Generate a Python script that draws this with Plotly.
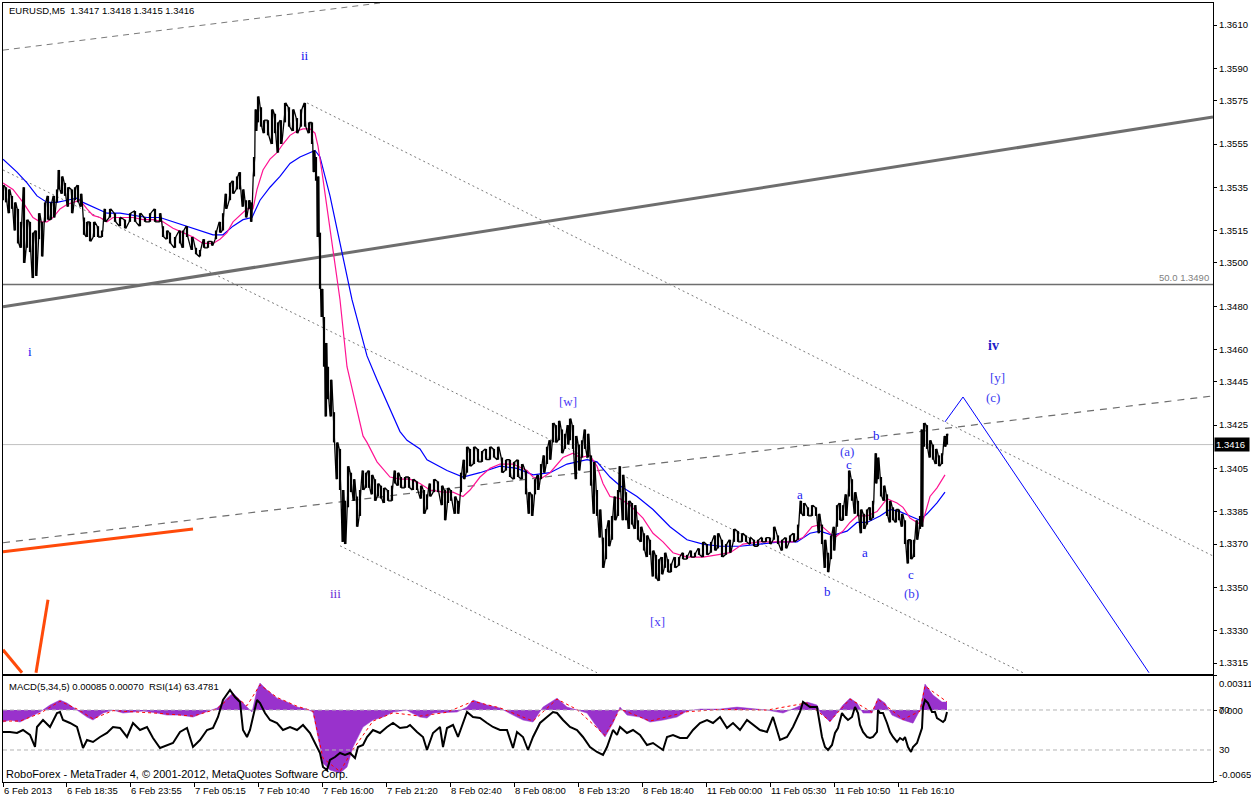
import plotly.graph_objects as go

# ---------------- price data (bar position on time axis, high, low) ----------------
bar_pos = [
    3, 6, 9, 12, 15, 18, 21, 24, 27, 30,
    33, 36, 39, 42, 45, 48, 51, 54, 57, 59,
    62, 65, 68, 72, 75, 78, 81, 84, 87, 90,
    94, 98, 102, 105, 110, 115, 120, 125, 130, 135,
    140, 145, 150, 155, 160, 163, 167, 170, 175, 180,
    183, 187, 192, 196, 200, 204, 208, 212, 216, 220,
    223, 226, 230, 233, 237, 240, 243, 246, 249, 251,
    254, 256, 258, 261, 264, 268, 272, 275, 278, 281,
    285, 289, 293, 297, 301, 305, 309, 312, 314, 316,
    318, 320, 322, 324, 326, 328, 331, 334, 337, 340,
    343, 345, 348, 351, 354, 357, 360, 363, 366, 369,
    372, 375, 378, 381, 384, 388, 392, 395, 398, 401,
    405, 409, 413, 417, 421, 424, 427, 430, 434, 438,
    442, 445, 448, 451, 455, 458, 461, 464, 467, 470,
    474, 478, 482, 486, 490, 494, 498, 502, 506, 510,
    514, 518, 522, 526, 529, 532, 535, 538, 541, 544,
    547, 550, 553, 556, 559, 562, 565, 568, 570, 573,
    576, 579, 582, 585, 588, 591, 594, 597, 600, 603,
    606, 609, 612, 615, 618, 620, 623, 626, 629, 632,
    635, 638, 641, 644, 647, 650, 653, 656, 659, 662,
    665, 668, 671, 675, 679, 683, 687, 691, 695, 699,
    703, 707, 711, 715, 718, 722, 726, 730, 734, 738,
    742, 746, 750, 754, 758, 762, 766, 770, 774, 778,
    782, 786, 790, 794, 798, 801, 804, 808, 812, 816,
    819, 822, 825, 828, 831, 834, 837, 840, 843, 846,
    849, 852, 855, 858, 861, 864, 867, 870, 873, 876,
    878, 881, 884, 887, 890, 893, 896, 899, 902, 905,
    908, 911, 914, 917, 920, 922, 924, 927, 930, 933,
    936, 939, 942, 945, 947,
]
bar_high = [
    1.3536, 1.3535, 1.3534, 1.3531, 1.3528, 1.3525, 1.3519, 1.3535, 1.3520, 1.3519,
    1.3514, 1.3515, 1.3523, 1.3519, 1.3528, 1.3531, 1.3528, 1.3531, 1.3534, 1.3543,
    1.3540, 1.3537, 1.3535, 1.3534, 1.3535, 1.3536, 1.3532, 1.3521, 1.3519, 1.3519,
    1.3519, 1.3517, 1.3515, 1.3525, 1.3525, 1.3523, 1.3521, 1.3520, 1.3523, 1.3524,
    1.3523, 1.3521, 1.3523, 1.3525, 1.3523, 1.3517, 1.3515, 1.3514, 1.3512, 1.3515,
    1.3515, 1.3517, 1.3512, 1.3507, 1.3506, 1.3511, 1.3510, 1.3510, 1.3515, 1.3519,
    1.3523, 1.3532, 1.3537, 1.3538, 1.3540, 1.3542, 1.3534, 1.3529, 1.3529, 1.3528,
    1.3549, 1.3571, 1.3577, 1.3572, 1.3566, 1.3566, 1.3571, 1.3569, 1.3565, 1.3566,
    1.3574, 1.3572, 1.3571, 1.3567, 1.3571, 1.3574, 1.3565, 1.3565, 1.3552, 1.3549,
    1.3540, 1.3514, 1.3488, 1.3475, 1.3463, 1.3452, 1.3446, 1.3431, 1.3417, 1.3414,
    1.3395, 1.3390, 1.3406, 1.3403, 1.3400, 1.3392, 1.3395, 1.3404, 1.3403, 1.3404,
    1.3402, 1.3400, 1.3398, 1.3397, 1.3396, 1.3395, 1.3397, 1.3404, 1.3403, 1.3401,
    1.3401, 1.3401, 1.3400, 1.3399, 1.3397, 1.3395, 1.3393, 1.3398, 1.3400, 1.3399,
    1.3397, 1.3395, 1.3396, 1.3395, 1.3392, 1.3390, 1.3403, 1.3409, 1.3415, 1.3414,
    1.3415, 1.3414, 1.3413, 1.3414, 1.3415, 1.3414, 1.3415, 1.3410, 1.3409, 1.3409,
    1.3408, 1.3409, 1.3407, 1.3404, 1.3394, 1.3393, 1.3400, 1.3402, 1.3407, 1.3411,
    1.3415, 1.3418, 1.3426, 1.3425, 1.3427, 1.3423, 1.3421, 1.3425, 1.3428, 1.3425,
    1.3420, 1.3416, 1.3418, 1.3423, 1.3421, 1.3411, 1.3408, 1.3395, 1.3386, 1.3373,
    1.3377, 1.3381, 1.3383, 1.3392, 1.3395, 1.3406, 1.3402, 1.3394, 1.3390, 1.3389,
    1.3388, 1.3381, 1.3378, 1.3375, 1.3374, 1.3372, 1.3367, 1.3365, 1.3363, 1.3364,
    1.3366, 1.3363, 1.3361, 1.3364, 1.3364, 1.3366, 1.3365, 1.3367, 1.3366, 1.3368,
    1.3371, 1.3370, 1.3371, 1.3374, 1.3375, 1.3372, 1.3370, 1.3372, 1.3377, 1.3376,
    1.3375, 1.3374, 1.3373, 1.3372, 1.3372, 1.3373, 1.3373, 1.3373, 1.3378, 1.3374,
    1.3372, 1.3373, 1.3374, 1.3375, 1.3379, 1.3390, 1.3389, 1.3387, 1.3388, 1.3387,
    1.3384, 1.3379, 1.3372, 1.3366, 1.3374, 1.3378, 1.3388, 1.3389, 1.3388, 1.3393,
    1.3404, 1.3400, 1.3394, 1.3390, 1.3386, 1.3384, 1.3386, 1.3387, 1.3390, 1.3412,
    1.3410, 1.3401, 1.3397, 1.3393, 1.3390, 1.3387, 1.3386, 1.3386, 1.3384, 1.3381,
    1.3372, 1.3372, 1.3372, 1.3381, 1.3383, 1.3423, 1.3426, 1.3425, 1.3418, 1.3416,
    1.3414, 1.3411, 1.3412, 1.3420, 1.3421,
]
bar_low = [
    1.3529, 1.3528, 1.3523, 1.3525, 1.3515, 1.3509, 1.3507, 1.3500, 1.3507, 1.3505,
    1.3493, 1.3494, 1.3511, 1.3503, 1.3519, 1.3520, 1.3520, 1.3521, 1.3528, 1.3534,
    1.3532, 1.3531, 1.3526, 1.3523, 1.3529, 1.3528, 1.3526, 1.3513, 1.3512, 1.3510,
    1.3512, 1.3512, 1.3512, 1.3519, 1.3521, 1.3519, 1.3517, 1.3516, 1.3519, 1.3519,
    1.3517, 1.3519, 1.3519, 1.3519, 1.3519, 1.3512, 1.3511, 1.3509, 1.3507, 1.3509,
    1.3507, 1.3512, 1.3506, 1.3504, 1.3503, 1.3507, 1.3507, 1.3508, 1.3511, 1.3514,
    1.3515, 1.3525, 1.3529, 1.3532, 1.3534, 1.3534, 1.3526, 1.3521, 1.3525, 1.3519,
    1.3540, 1.3561, 1.3565, 1.3563, 1.3560, 1.3559, 1.3555, 1.3560, 1.3551, 1.3555,
    1.3565, 1.3563, 1.3561, 1.3560, 1.3563, 1.3563, 1.3560, 1.3555, 1.3542, 1.3538,
    1.3512, 1.3488, 1.3475, 1.3452, 1.3429, 1.3437, 1.3429, 1.3417, 1.3400, 1.3395,
    1.3371, 1.3370, 1.3387, 1.3394, 1.3390, 1.3378, 1.3383, 1.3395, 1.3396, 1.3396,
    1.3393, 1.3390, 1.3392, 1.3391, 1.3389, 1.3390, 1.3390, 1.3398, 1.3397, 1.3396,
    1.3396, 1.3396, 1.3395, 1.3395, 1.3391, 1.3384, 1.3386, 1.3392, 1.3394, 1.3394,
    1.3388, 1.3381, 1.3389, 1.3390, 1.3384, 1.3384, 1.3394, 1.3400, 1.3403, 1.3406,
    1.3407, 1.3408, 1.3408, 1.3409, 1.3409, 1.3410, 1.3409, 1.3403, 1.3404, 1.3401,
    1.3400, 1.3401, 1.3400, 1.3393, 1.3384, 1.3383, 1.3393, 1.3395, 1.3400, 1.3403,
    1.3407, 1.3409, 1.3417, 1.3417, 1.3418, 1.3412, 1.3414, 1.3416, 1.3418, 1.3414,
    1.3400, 1.3404, 1.3410, 1.3414, 1.3410, 1.3397, 1.3384, 1.3383, 1.3373, 1.3359,
    1.3363, 1.3369, 1.3372, 1.3381, 1.3383, 1.3394, 1.3381, 1.3381, 1.3377, 1.3379,
    1.3377, 1.3372, 1.3371, 1.3367, 1.3364, 1.3365, 1.3355, 1.3354, 1.3353, 1.3356,
    1.3359, 1.3357, 1.3357, 1.3359, 1.3360, 1.3363, 1.3363, 1.3364, 1.3364, 1.3365,
    1.3364, 1.3365, 1.3366, 1.3367, 1.3368, 1.3364, 1.3365, 1.3366, 1.3371, 1.3371,
    1.3371, 1.3371, 1.3370, 1.3369, 1.3369, 1.3371, 1.3371, 1.3370, 1.3372, 1.3370,
    1.3367, 1.3368, 1.3371, 1.3371, 1.3372, 1.3384, 1.3383, 1.3383, 1.3383, 1.3383,
    1.3375, 1.3370, 1.3359, 1.3357, 1.3363, 1.3367, 1.3378, 1.3381, 1.3381, 1.3383,
    1.3392, 1.3390, 1.3384, 1.3383, 1.3375, 1.3377, 1.3379, 1.3381, 1.3382, 1.3398,
    1.3400, 1.3392, 1.3390, 1.3383, 1.3380, 1.3381, 1.3380, 1.3381, 1.3378, 1.3370,
    1.3361, 1.3363, 1.3364, 1.3372, 1.3377, 1.3378, 1.3415, 1.3414, 1.3410, 1.3409,
    1.3407, 1.3406, 1.3407, 1.3415, 1.3416,
]

# ---------------- moving averages ----------------
ma_fast_pos = [3, 13, 23, 33, 40, 47, 53, 60, 67, 73, 80, 87, 93, 100, 107, 113, 123, 133, 143, 153,
               163, 173, 183, 193, 203, 213, 220, 227, 233, 240, 247, 253, 257, 263, 270, 277, 283, 290,
               297, 303, 310, 315, 318, 322, 327, 330, 340, 347, 353, 363, 367, 377, 390, 400, 410, 420,
               430, 443, 453, 463, 470, 480, 490, 500, 513, 527, 533, 540, 550, 563, 573, 580, 590, 597,
               603, 610, 620, 630, 643, 653, 663, 673, 687, 703, 717, 730, 743, 760, 777, 793, 803, 812,
               820, 827, 835, 843, 850, 857, 867, 877, 887, 897, 903, 910, 917, 922, 925, 930, 937, 945]
ma_fast = [1.3537, 1.3534, 1.3528, 1.3521, 1.3519, 1.3519, 1.3521, 1.3525, 1.3527, 1.3528, 1.3529,
           1.3525, 1.3522, 1.3521, 1.3519, 1.3521, 1.3521, 1.3521, 1.3520, 1.3520, 1.3519, 1.3516,
           1.3514, 1.3512, 1.3509, 1.3509, 1.3511, 1.3514, 1.3519, 1.3522, 1.3525, 1.3525, 1.3534,
           1.3543, 1.3548, 1.3551, 1.3555, 1.3559, 1.3561, 1.3562, 1.3562, 1.3560, 1.3554, 1.3542,
           1.3526, 1.3517, 1.3483, 1.3452, 1.3440, 1.3420, 1.3417, 1.3408, 1.3401, 1.3400, 1.3400,
           1.3398, 1.3395, 1.3394, 1.3394, 1.3392, 1.3395, 1.3401, 1.3405, 1.3407, 1.3407, 1.3404,
           1.3401, 1.3400, 1.3403, 1.3410, 1.3412, 1.3410, 1.3411, 1.3406, 1.3398, 1.3392, 1.3391,
           1.3388, 1.3382, 1.3375, 1.3371, 1.3366, 1.3364, 1.3364, 1.3365, 1.3366, 1.3370, 1.3371,
           1.3371, 1.3371, 1.3373, 1.3378, 1.3379, 1.3376, 1.3373, 1.3376, 1.3380, 1.3383, 1.3383,
           1.3385, 1.3391, 1.3389, 1.3387, 1.3382, 1.3380, 1.3379, 1.3384, 1.3392, 1.3396, 1.3402]
ma_slow_pos = [3, 17, 27, 37, 47, 57, 67, 77, 83, 93, 107, 120, 133, 147, 160, 173, 187, 200, 213, 223,
               233, 243, 252, 260, 270, 280, 290, 300, 310, 315, 320, 325, 330, 352, 367, 377, 390, 400,
               407, 420, 427, 447, 463, 480, 500, 517, 533, 550, 567, 587, 597, 610, 620, 637, 653, 670,
               687, 703, 720, 740, 760, 780, 797, 810, 820, 833, 847, 857, 867, 880, 890, 900, 910, 920,
               927, 937, 945]
ma_slow = [1.3548, 1.3542, 1.3537, 1.3531, 1.3528, 1.3528, 1.3529, 1.3530, 1.3528, 1.3526, 1.3523,
           1.3523, 1.3522, 1.3521, 1.3521, 1.3519, 1.3517, 1.3515, 1.3513, 1.3513, 1.3517, 1.3520,
           1.3521, 1.3529, 1.3535, 1.3540, 1.3546, 1.3549, 1.3551, 1.3552, 1.3549, 1.3540, 1.3531,
           1.3483, 1.3457, 1.3446, 1.3432, 1.3422, 1.3418, 1.3414, 1.3409, 1.3404, 1.3401, 1.3403,
           1.3406, 1.3405, 1.3402, 1.3403, 1.3407, 1.3409, 1.3408, 1.3401, 1.3397, 1.3392, 1.3386,
           1.3378, 1.3372, 1.3370, 1.3369, 1.3369, 1.3370, 1.3371, 1.3371, 1.3375, 1.3376, 1.3374,
           1.3376, 1.3380, 1.3380, 1.3383, 1.3386, 1.3385, 1.3383, 1.3381, 1.3384, 1.3389, 1.3394]

# ---------------- indicator window ----------------
macd_pos = [3, 10, 20, 30, 40, 50, 60, 67, 77, 87, 93, 103, 113, 123, 133, 143, 157, 167, 180, 193,
            203, 217, 227, 233, 240, 247, 252, 257, 260, 267, 277, 287, 297, 307, 313, 318, 323, 330,
            340, 347, 353, 363, 373, 383, 393, 407, 410, 420, 427, 433, 447, 457, 467, 473, 487, 500,
            513, 523, 533, 543, 557, 567, 577, 587, 597, 605, 613, 620, 627, 640, 650, 663, 677, 687,
            700, 720, 737, 750, 767, 783, 797, 807, 817, 820, 830, 837, 843, 850, 857, 863, 872, 878,
            885, 892, 903, 913, 920, 925, 933, 942, 947]
macd_hist = [-0.00109, -0.00091, -0.00109, -0.00064, -0.00018, 0.00046, 0.00091, 0.00064, 0.0, -0.00064,
             -0.00091, -0.00027, 0.0, -0.00027, -0.00018, -0.00009, -0.00027, -0.00046, -0.00046, -0.00064,
             -0.00027, 0.00018, 0.00109, 0.00155, 0.00091, 0.00027, -0.00018, 0.00182, 0.00246, 0.00182,
             0.00109, 0.00073, 0.00027, 0.00009, -0.00018, -0.00246, -0.00483, -0.00547, -0.00575, -0.00520,
             -0.00337, -0.00155, -0.00091, -0.00064, -0.00018, 0.0, -0.00018, -0.00064, -0.00073, -0.00027,
             -0.00018, -0.00018, 0.00027, 0.00091, 0.00046, 0.00018, -0.00046, -0.00091, -0.00109, 0.00027,
             0.00109, 0.00027, 0.0, -0.00027, -0.00155, -0.00246, -0.00119, 0.00027, -0.00046, -0.00064,
             -0.00109, -0.00091, -0.00064, -0.00009, 0.00009, 0.00009, 0.00027, 0.00018, 0.0, -0.00027,
             0.00027, 0.00073, 0.00046, -0.00018, -0.00109, -0.00027, 0.00046, 0.00109, 0.00064, -0.00027,
             -0.00027, 0.00109, 0.00064, -0.00046, -0.00091, -0.00119, 0.0, 0.00237, 0.00137, 0.00073, 0.00073]
signal_pos = [3, 20, 40, 60, 77, 93, 113, 133, 160, 193, 217, 233, 247, 260, 277, 297, 313, 323, 340,
              353, 373, 393, 420, 447, 473, 500, 533, 557, 577, 605, 620, 650, 687, 720, 767, 807, 830,
              850, 872, 878, 903, 920, 925, 947]
signal_line = [-0.00100, -0.00100, -0.00030, 0.00080, 0.00010, -0.00080, -0.00005, -0.00015, -0.00030,
               -0.00055, 0.00010, 0.00140, 0.00040, 0.00230, 0.00115, 0.00035, -0.00010, -0.00440, -0.00560,
               -0.00360, -0.00100, -0.00025, -0.00055, -0.00020, 0.00080, 0.00020, -0.00100, 0.00100, 0.00005,
               -0.00230, 0.00010, -0.00100, -0.00015, 0.00005, 0.00000, 0.00065, -0.00100, 0.00100, -0.00020,
               0.00100, -0.00085, -0.00010, 0.00220, 0.00075]
rsi_pos = [3, 10, 17, 23, 30, 35, 37, 43, 50, 57, 60, 63, 70, 77, 83, 87, 93, 100, 107, 113, 120, 127,
           133, 140, 147, 153, 160, 167, 173, 180, 187, 193, 200, 207, 213, 218, 223, 230, 235, 240, 243,
           247, 250, 253, 257, 260, 265, 270, 277, 283, 290, 297, 303, 310, 315, 320, 323, 327, 330, 335,
           340, 345, 350, 355, 358, 363, 367, 373, 380, 387, 393, 400, 407, 410, 417, 423, 427, 433, 440,
           443, 447, 453, 458, 463, 467, 473, 480, 487, 493, 500, 507, 513, 517, 523, 528, 533, 540, 547,
           553, 557, 563, 570, 577, 583, 590, 597, 603, 607, 613, 617, 620, 627, 633, 640, 647, 653, 660,
           663, 667, 673, 680, 687, 693, 700, 707, 713, 720, 727, 733, 740, 747, 753, 760, 767, 773, 780,
           787, 793, 800, 803, 810, 817, 820, 822, 825, 828, 832, 835, 838, 842, 845, 848, 852, 855, 858,
           860, 863, 867, 870, 873, 877, 878, 880, 883, 887, 890, 893, 897, 900, 903, 905, 908, 911, 913,
           917, 920, 922, 923, 925, 928, 932, 935, 937, 940, 943, 945, 947]
rsi = [48, 48, 47, 50, 45, 33, 53, 60, 53, 67, 68, 60, 57, 53, 32, 40, 38, 43, 47, 53, 52, 43,
       57, 50, 53, 42, 32, 35, 37, 48, 52, 33, 40, 50, 52, 63, 80, 90, 83, 78, 50,
       43, 50, 63, 80, 77, 67, 60, 57, 50, 53, 50, 55, 47, 37, 27, 13, 10, 20, 23,
       27, 25, 27, 22, 33, 35, 43, 50, 47, 53, 57, 52, 53, 55, 48, 43, 30, 47, 53,
       33, 52, 55, 43, 57, 68, 63, 62, 57, 53, 50, 50, 32, 48, 43, 30, 43, 57, 63,
       68, 67, 60, 53, 50, 43, 33, 28, 25, 33, 50, 45, 53, 47, 50, 45, 35, 37, 32,
       30, 43, 45, 42, 42, 50, 57, 60, 57, 63, 52, 57, 50, 60, 55, 50, 48, 63, 40,
       43, 53, 68, 78, 73, 73, 55, 43, 33, 30, 35, 47, 52, 67, 63, 60, 63, 73, 67,
       55, 48, 43, 42, 43, 48, 70, 67, 67, 57, 48, 43, 38, 42, 40, 43, 33, 28, 33,
       37, 45, 52, 73, 80, 77, 68, 68, 62, 60, 58, 60, 68]
rsi_levels = [70, 30]

# ---------------- axis ticks ----------------
price_ticks = [1.3610, 1.3590, 1.3575, 1.3555, 1.3535, 1.3515, 1.3500, 1.3480, 1.3460, 1.3445,
               1.3425, 1.3405, 1.3385, 1.3370, 1.3350, 1.3330, 1.3315]
time_tick_pos = [3, 66, 130, 194, 258, 322, 386, 450, 514, 578, 642, 706, 770, 834, 898]
time_tick_text = ["6 Feb 2013", "6 Feb 18:35", "6 Feb 23:55", "7 Feb 05:15", "7 Feb 10:40",
                  "7 Feb 16:00", "7 Feb 21:20", "8 Feb 02:40", "8 Feb 08:00", "8 Feb 13:20",
                  "8 Feb 18:40", "11 Feb 00:00", "11 Feb 05:30", "11 Feb 10:50", "11 Feb 16:10"]
x_range = [3, 1213]
price_range = [1.33099, 1.36202]
macd_range = [-0.00656, 0.00311]
rsi_range = [-2, 104]

# ---------------- drawn objects (bar position, price) ----------------
top_dash_line = ([3, 380], [1.35984, 1.36202])
chan_upper = ([307, 1213], [1.35740, 1.33645])
chan_mid = ([3, 1023], [1.35430, 1.33105])
chan_low = ([340, 597], [1.33692, 1.33105])
rising_dash = ([3, 1213], [1.33706, 1.34385])
thick_line = ([3, 1213], [1.34797, 1.35675])
fib_level = 1.3490
last_price = 1.3416
orange_1 = ([3, 193], [1.33664, 1.33770])
orange_2 = ([36, 48], [1.33105, 1.33442])
orange_3 = ([3, 22], [1.33211, 1.33105])
projection = ([945, 963, 1149], [1.34265, 1.34380, 1.33105])

wave_labels = [
    ("ii", 305, 1.3596, "#1515F0"), ("i", 30, 1.3459, "#1515F0"), ("iii", 335, 1.3347, "#6A2BD6"),
    ("[w]", 568, 1.3436, "#4A3AF5"), ("[x]", 657, 1.3334, "#4A3AF5"),
    ("a", 800, 1.3393, "#1A1AF0"), ("b", 827, 1.3348, "#1A1AF0"), ("(a)", 847, 1.3413, "#3A3AF0"),
    ("c", 849, 1.3407, "#1A1AF0"), ("b", 876, 1.3420, "#1A1AF0"), ("a", 865, 1.3366, "#1A1AF0"),
    ("c", 911, 1.3356, "#1A1AF0"), ("(b)", 911, 1.3347, "#3A3AF0"),
    ("[y]", 997, 1.3447, "#3A3AF0"), ("(c)", 993, 1.3438, "#3A3AF0"),
]

# ---------------- build figure ----------------
fig = go.Figure()
SANS = "Liberation Sans"


def line(xs, ys, color, width, dash="solid", xa="x", ya="y"):
    fig.add_trace(go.Scatter(x=xs, y=ys, mode="lines", xaxis=xa, yaxis=ya,
                             line=dict(color=color, width=width, dash=dash),
                             hoverinfo="skip", showlegend=False))


# background objects
line(*top_dash_line, "#7a7a7a", 1, "6px,5px")
line(*chan_upper, "#7a7a7a", 1, "2px,3px")
line(*chan_mid, "#7a7a7a", 1, "2px,3px")
line(*chan_low, "#7a7a7a", 1, "2px,3px")
line(*rising_dash, "#6e6e6e", 1.2, "7px,6px")
line(*thick_line, "#6e6e6e", 3)
line(x_range, [fib_level, fib_level], "#6e6e6e", 1.5)
line(x_range, [last_price, last_price], "#c0c0c0", 1)
line(*orange_1, "#FF4A0A", 3)
line(*orange_2, "#FF4A0A", 3)
line(*orange_3, "#FF4A0A", 3)
line(*projection, "#0000FF", 1)

# moving averages
line(ma_slow_pos, ma_slow, "#0000FF", 1.2)
line(ma_fast_pos, ma_fast, "#FF1493", 1.2)

# price bars: vertical high-low bars plus a zigzag joining them
vx, vy = [], []
for p, h, l in zip(bar_pos, bar_high, bar_low):
    vx += [p, p, None]
    vy += [l, h, None]
line(vx, vy, "#000000", 2.2)
zx, zy = [], []
for i, (p, h, l) in enumerate(zip(bar_pos, bar_high, bar_low)):
    zx += [p - 0.8, p + 0.8]
    zy += [l, h] if i % 2 == 0 else [h, l]
line(zx, zy, "#000000", 1.3)

# indicator window
fig.add_trace(go.Scatter(x=macd_pos, y=macd_hist, mode="lines", xaxis="x2", yaxis="y2",
                         fill="tozeroy", fillcolor="#9932CC", line=dict(color="#9932CC", width=0.5),
                         hoverinfo="skip", showlegend=False))
line(signal_pos, signal_line, "#FF0000", 1, "dot", "x2", "y2")
for lv in rsi_levels:
    line(x_range, [lv, lv], "#b4b4b4", 1, "4px,3px", "x2", "y3")
line(rsi_pos, rsi, "#000000", 2, "solid", "x2", "y3")

# wave labels
for txt, bx, pr, col in wave_labels:
    fig.add_annotation(x=bx, y=pr, xref="x", yref="y", text=txt, showarrow=False,
                       font=dict(family="Liberation Serif", size=13, color=col))
fig.add_annotation(x=993, y=1.3462, xref="x", yref="y", text="<b>iv</b>", showarrow=False,
                   font=dict(family="Liberation Serif", size=14, color="#1E1EC8"))

# texts
fig.add_annotation(x=0.0035, y=0.9995, xref="paper", yref="paper", xanchor="left", yanchor="top",
                   text="EURUSD,M5  1.3417 1.3418 1.3415 1.3416", showarrow=False,
                   font=dict(family=SANS, size=9.5, color="black"))
fig.add_annotation(x=0.0035, y=0.1325, xref="paper", yref="paper", xanchor="left", yanchor="top",
                   text="MACD(5,34,5) 0.00085 0.00070  RSI(14) 63.4781", showarrow=False,
                   font=dict(family=SANS, size=9.5, color="black"))
fig.add_annotation(x=0.001, y=0.0105, xref="paper", yref="paper", xanchor="left", yanchor="middle",
                   text="RoboForex - MetaTrader 4, © 2001-2012, MetaQuotes Software Corp.", showarrow=False,
                   font=dict(family=SANS, size=11, color="black"))
fig.add_annotation(x=1, y=fib_level, xref="paper", yref="y", xanchor="right", yanchor="bottom",
                   xshift=-2, yshift=0, text="50.0 1.3490", showarrow=False,
                   font=dict(family=SANS, size=9.5, color="#808080"))
fig.add_annotation(x=1, y=last_price, xref="paper", yref="y", xanchor="left", yanchor="middle",
                   xshift=1, text="1.3416 ", showarrow=False, bgcolor="black", borderpad=1,
                   font=dict(family=SANS, size=9.5, color="white"))
for txt, yv, yr, anc in [("0.00311", macd_range[1], "y2", "top"), ("0.000", 0, "y2", "middle"),
                         ("70", 70, "y3", "middle"), ("30", 30, "y3", "middle"),
                         ("-0.00656", macd_range[0], "y2", "bottom")]:
    fig.add_annotation(x=1, y=yv, xref="paper", yref=yr, xanchor="left", yanchor=anc, xshift=4,
                       text=txt, showarrow=False, font=dict(family=SANS, size=9.5, color="black"))

axis_common = dict(showline=True, linecolor="black", linewidth=1, mirror=True, showgrid=False,
                   zeroline=False)
fig.update_layout(
    width=1251, height=799, margin=dict(l=3, r=38, t=3, b=17),
    paper_bgcolor="white", plot_bgcolor="white", showlegend=False,
    xaxis=dict(domain=[0, 1], range=x_range, anchor="y", showticklabels=False, ticks="", **axis_common),
    yaxis=dict(domain=[0.1386, 1], range=price_range, side="right", tickvals=price_ticks,
               tickformat=".4f", ticks="outside", ticklen=3, tickcolor="black",
               tickfont=dict(family=SANS, size=9.5, color="black"), anchor="x", **axis_common),
    xaxis2=dict(domain=[0, 1], range=x_range, anchor="y2", tickvals=time_tick_pos,
                ticktext=time_tick_text, ticks="outside", ticklen=4, tickcolor="black",
                ticklabelposition="outside right", tickangle=0,
                tickfont=dict(family=SANS, size=9.5, color="black"), **axis_common),
    yaxis2=dict(domain=[0, 0.1361], range=macd_range, side="right", anchor="x2",
                tickvals=[macd_range[1], 0, macd_range[0]], showticklabels=False, ticks="outside",
                ticklen=3, tickcolor="black", **axis_common),
    yaxis3=dict(domain=[0, 0.1361], range=rsi_range, overlaying="y2", anchor="x2", visible=False),
)

fig.write_html("out.html", config={"displayModeBar": False},
               post_script="document.body.style.margin='0';document.body.style.padding='0';"
                           "document.documentElement.style.overflow='hidden';")
